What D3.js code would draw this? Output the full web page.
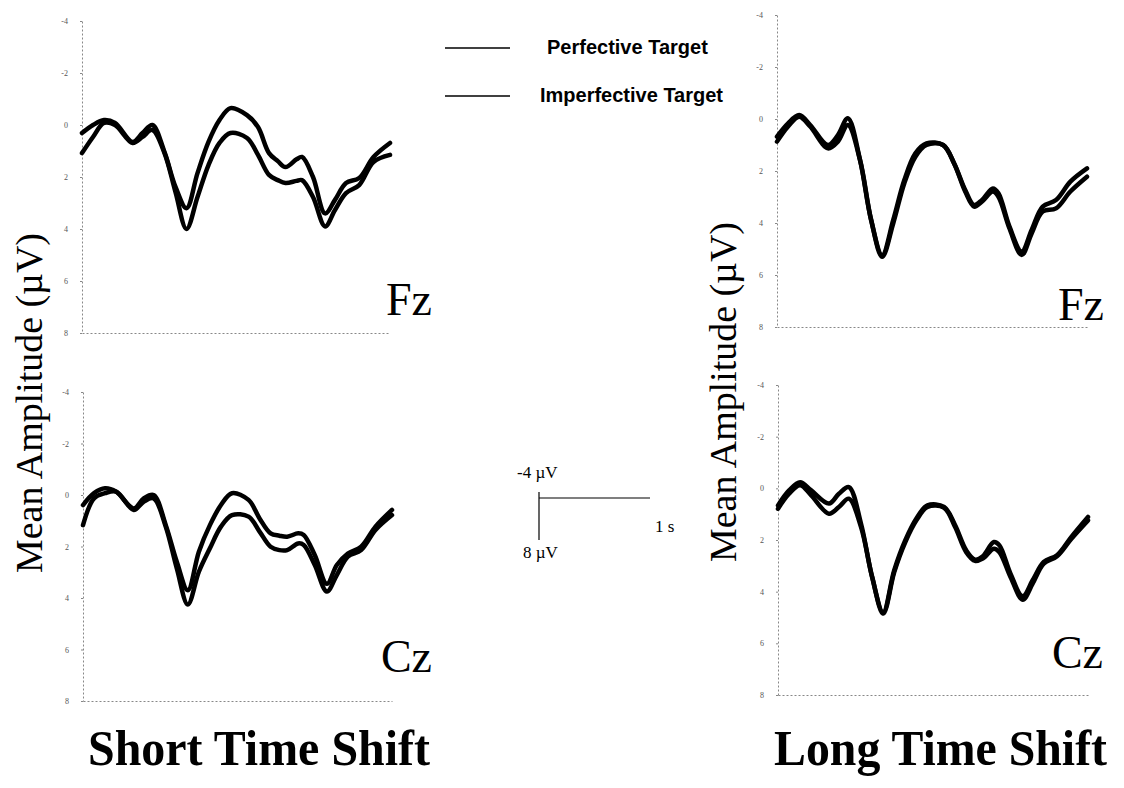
<!DOCTYPE html>
<html lang="en">
<head>
<meta charset="UTF-8">
<script src="https://cdn.jsdelivr.net/npm/d3@7"></script>
<title>ERP waveforms</title>
<style>
  body { margin: 0; background: #fff; }
  .tick text { font-family: "Liberation Serif", serif; font-size: 8px; fill: #555; }
  .axis .domain { stroke: #888; stroke-dasharray: 2,2; }
  .axis .tick line { stroke: #888; }
  .wave { fill: none; stroke: #000; stroke-width: 4.5; stroke-linejoin: round; stroke-linecap: round; }
</style>
</head>
<body>
<svg width="1124" height="788"></svg>
<script>
// time points (ms) shared by all waveforms
var times = [-200, -100, 0, 100, 260, 350, 440, 550, 650, 750, 850, 950, 1050, 1150,
             1300, 1400, 1500, 1580, 1650, 1750, 1800, 1900, 2010, 2100, 2200, 2320, 2450, 2600];

// amplitudes in microvolts (negative up)
var fzShortPerf = [0.31, 0, -0.19, -0.08, 0.65, 0.31, 0, 1.04, 2.38, 3.2, 1.85, 0.65, -0.19, -0.65,
                   -0.38, 0.08, 1.08, 1.39, 1.62, 1.32, 1.23, 2.0, 3.4, 2.88, 2.23, 2.04, 1.23, 0.69];
var fzShortImp  = [1.08, 0.46, -0.08, 0, 0.69, 0.46, 0.19, 1.08, 2.58, 4.0, 2.77, 1.54, 0.69, 0.31,
                   0.5, 1.15, 1.92, 2.12, 2.23, 2.15, 2.12, 2.77, 3.9, 3.27, 2.62, 2.31, 1.42, 1.15];
var czShortPerf = [0.39, -0.07, -0.26, -0.13, 0.52, 0.13, 0, 1.17, 2.59, 3.7, 2.2, 1.17, 0.39, -0.07,
                   0.19, 0.91, 1.49, 1.58, 1.62, 1.49, 1.55, 2.33, 3.45, 2.72, 2.27, 2.01, 1.23, 0.58];
var czShortImp  = [1.17, 0.13, -0.07, -0.13, 0.58, 0.26, 0.13, 1.23, 2.85, 4.25, 2.98, 2.07, 1.23, 0.78,
                   0.84, 1.42, 2.01, 2.14, 2.14, 1.88, 1.94, 2.72, 3.75, 3.11, 2.39, 2.14, 1.36, 0.78];
var fzLongPerf  = [0.68, 0.17, -0.15, 0.23, 1.0, 0.62, -0.03, 1.58, 3.88, 5.23, 3.88, 2.35, 1.32, 0.94,
                   1.0, 1.71, 2.73, 3.31, 3.12, 2.67, 2.86, 4.14, 5.1, 4.27, 3.37, 3.12, 2.41, 1.9];
var fzLongImp   = [0.87, 0.29, -0.09, 0.29, 1.13, 0.87, 0.23, 1.58, 3.88, 5.3, 4.01, 2.47, 1.45, 1.0,
                   1.0, 1.71, 2.79, 3.37, 3.18, 2.79, 2.99, 4.21, 5.23, 4.4, 3.56, 3.44, 2.79, 2.22];
var czLongPerf  = [0.66, 0.08, -0.24, 0.08, 0.59, 0.21, -0.05, 1.37, 3.43, 4.79, 3.17, 2.01, 1.17, 0.66,
                   0.72, 1.43, 2.4, 2.76, 2.63, 2.08, 2.21, 3.3, 4.18, 3.56, 2.85, 2.59, 1.88, 1.11];
var czLongImp   = [0.79, 0.21, -0.12, 0.27, 0.98, 0.72, 0.4, 1.5, 3.43, 4.85, 3.24, 2.08, 1.24, 0.72,
                   0.75, 1.5, 2.47, 2.81, 2.72, 2.34, 2.47, 3.43, 4.31, 3.69, 2.92, 2.63, 1.95, 1.24];

var yTicks = [-4, -2, 0, 2, 4, 6, 8];
var legendLabels = ["Perfective Target", "Imperfective Target"];
var conditionTitles = ["Short Time Shift", "Long Time Shift"];

var svg = d3.select("svg");

var panels = [
  {site: "Fz", a: fzShortPerf, b: fzShortImp, left: 82, right: 390, top: 21, bottom: 333, lx: 432, ly: 315},
  {site: "Cz", a: czShortPerf, b: czShortImp, left: 83, right: 392, top: 392, bottom: 701, lx: 432, ly: 672},
  {site: "Fz", a: fzLongPerf, b: fzLongImp, left: 777, right: 1087, top: 15, bottom: 327, lx: 1104, ly: 320},
  {site: "Cz", a: czLongPerf, b: czLongImp, left: 778, right: 1088, top: 385, bottom: 695, lx: 1103, ly: 668}
];

panels.forEach(function(p) {
  var x = d3.scaleLinear().domain([-200, 2600]).range([p.left, p.right]);
  var y = d3.scaleLinear().domain([-4, 8]).range([p.top, p.bottom]);
  var g = svg.append("g");

  g.append("g")
    .attr("class", "axis")
    .attr("transform", "translate(" + p.left + ",0)")
    .call(d3.axisLeft(y).tickValues(yTicks).tickSize(2).tickSizeOuter(0).tickPadding(12)
            .tickFormat(function(d) { return String(d); }));

  g.append("g")
    .attr("class", "axis")
    .attr("transform", "translate(0," + y(8) + ")")
    .call(d3.axisBottom(x).tickValues([]).tickSizeOuter(0));

  var line = d3.line()
    .x(function(d, i) { return x(times[i]); })
    .y(function(d) { return y(d); })
    .curve(d3.curveCatmullRom.alpha(0.5));

  [p.a, p.b].forEach(function(s) {
    g.append("path").datum(s).attr("class", "wave").attr("d", line);
  });

  g.append("text")
    .attr("x", p.lx).attr("y", p.ly)
    .attr("text-anchor", "end")
    .style("font-family", "Liberation Serif, serif")
    .style("font-size", "46px")
    .text(p.site);
});

// y labels
[{x: 42, y: 403}, {x: 736, y: 392}].forEach(function(l) {
  svg.append("text")
    .attr("transform", "translate(" + l.x + "," + l.y + ") rotate(-90)")
    .attr("text-anchor", "middle")
    .attr("textLength", 340)
    .attr("lengthAdjust", "spacingAndGlyphs")
    .style("font-family", "Liberation Serif, serif")
    .style("font-size", "38px")
    .text("Mean Amplitude (\u00b5V)");
});

// condition titles
[{x: 88, w: 342}, {x: 774, w: 333}].forEach(function(t, i) {
  svg.append("text")
    .attr("x", t.x).attr("y", 765)
    .attr("textLength", t.w)
    .attr("lengthAdjust", "spacingAndGlyphs")
    .style("font-family", "Liberation Serif, serif")
    .style("font-weight", "bold")
    .style("font-size", "50px")
    .text(conditionTitles[i]);
});

// legend
var legend = svg.append("g");
legendLabels.forEach(function(lab, i) {
  var ly = 48 + i * 48;
  legend.append("line")
    .attr("x1", 445).attr("x2", 510).attr("y1", ly).attr("y2", ly)
    .attr("stroke", "#000").attr("stroke-width", 1.5);
  legend.append("text")
    .attr("x", i === 0 ? 547 : 540).attr("y", ly + 6)
    .style("font-family", "Liberation Sans, Arial, sans-serif")
    .style("font-weight", "bold")
    .style("font-size", "20px")
    .text(lab);
});

// scale bar
var bar = svg.append("g");
bar.append("line").attr("x1", 539).attr("x2", 539).attr("y1", 492).attr("y2", 540)
   .attr("stroke", "#000").attr("stroke-width", 1.2);
bar.append("line").attr("x1", 539).attr("x2", 650).attr("y1", 498).attr("y2", 498)
   .attr("stroke", "#000").attr("stroke-width", 1.2);
[["-4 \u00b5V", 517, 478], ["1 s", 655, 532], ["8 \u00b5V", 523, 558]].forEach(function(t) {
  bar.append("text")
    .attr("x", t[1]).attr("y", t[2])
    .style("font-family", "Liberation Serif, serif")
    .style("font-size", "17px")
    .text(t[0]);
});
</script>
</body>
</html>
